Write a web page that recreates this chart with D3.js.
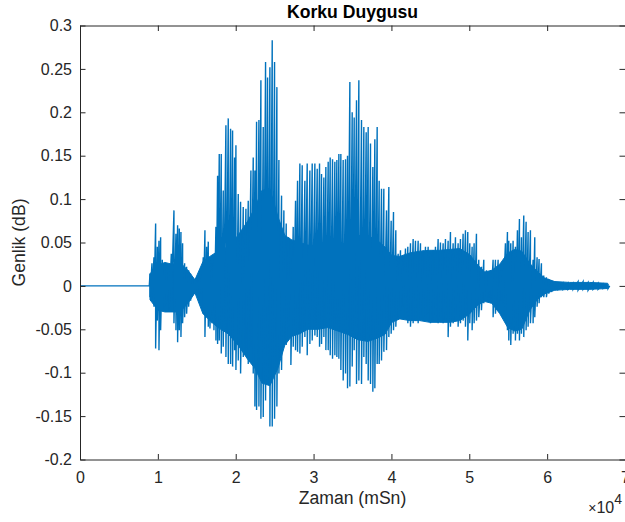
<!DOCTYPE html>
<html>
<head>
<meta charset="utf-8">
<script src="https://cdn.jsdelivr.net/npm/d3@7"></script>
<style>
  body { margin: 0; background: #fff; }
  svg { display: block; }
  text { font-family: "Liberation Sans", Arial, Helvetica, sans-serif; }
</style>
</head>
<body>
<svg id="chart" width="625" height="522"></svg>
<script>
// Waveform extremes: sample index, peak above zero and peak below zero
const sampleTimes = [
  0, 8900, 8990, 9243, 9500, 9714, 9928, 10142, 10355, 10569, 10826, 11125, 11425, 11725,
  12067, 12323, 12537, 12751, 12965, 13179, 13436, 13692, 13949, 14206, 14463, 14763,
  15062, 15362, 15619, 15833, 16047, 16261, 16475, 16688, 16945, 17202, 17458, 17672,
  17886, 18143, 18400, 18742, 19042, 19341, 19598, 19855, 20027, 20326, 20626, 20968,
  21310, 21609, 21952, 22251, 22465, 22679, 22979,
  23235, 23535, 23834, 24091, 24390, 24690, 24989, 25289, 25546, 25888, 26187, 26487,
  26787, 27086, 27386, 27685, 27942, 28241, 28541, 28883, 29183, 29525, 29825, 30167,
  30467, 30766, 31023, 31322, 31579, 31879, 32135, 32435, 32734, 32991, 33248, 33505,
  33804, 34104, 34361, 34660, 34960, 35217, 35516, 35816, 36158, 36457, 36757, 37014,
  37313, 37613,
  37870, 38169, 38426, 38726, 39025, 39367, 39667, 39966, 40266, 40565, 40865, 41164,
  41507, 41806, 42106, 42448, 42790, 43090, 43432, 43732, 44074, 44373, 44716, 45015,
  45357, 45657, 45999, 46299, 46641, 46940, 47283, 47582, 47925, 48224, 48566, 48866,
  49208, 49508, 49807, 50064, 50364, 50620, 50920, 51220, 51562, 51861, 52204, 52503,
  52760, 53060, 53360, 53702, 54044, 54344, 54643, 54900, 55071, 55328, 55628, 55927,
  56184, 56441, 56698, 56997, 57297, 57554, 57853, 58196, 58410, 58709, 58966, 59265,
  59565, 59907, 60207, 60549, 60977, 61405, 62047, 62688, 63330, 63972, 64614, 65256,
  65898, 66540, 67182, 67824, 68040
];
const peakHigh = [
  0, 0, 0.014, 0.026, 0.033, 0.072, 0.045, 0.052, 0.056, 0.030, 0.026, 0.026, 0.022, 0.037,
  0.087, 0.060, 0.070, 0.066, 0.062, 0.049, 0.026, 0.022, 0.018, 0.014, 0.010, 0.008,
  0.008, 0.010, 0.010, 0.033, 0.064, 0.045, 0.051, 0.030, 0.026, 0.030, 0.068, 0.127,
  0.152, 0.152, 0.110, 0.185, 0.193, 0.181, 0.179, 0.148, 0.162, 0.106, 0.097, 0.091,
  0.089, 0.098, 0.133, 0.148, 0.133, 0.189, 0.191,
  0.237, 0.183, 0.258, 0.240, 0.252, 0.283, 0.258, 0.229, 0.145, 0.104, 0.087, 0.072,
  0.056, 0.049, 0.068, 0.098, 0.121, 0.141, 0.139, 0.121, 0.141, 0.133, 0.141, 0.141,
  0.135, 0.141, 0.129, 0.125, 0.137, 0.143, 0.148, 0.146, 0.143, 0.145, 0.152, 0.152,
  0.145, 0.146, 0.150, 0.235, 0.200, 0.194, 0.214, 0.237, 0.191, 0.183, 0.177, 0.183,
  0.164, 0.137,
  0.169, 0.183, 0.121, 0.112, 0.112, 0.087, 0.114, 0.075, 0.085, 0.064, 0.037, 0.041,
  0.033, 0.043, 0.045, 0.049, 0.054, 0.052, 0.052, 0.049, 0.041, 0.045, 0.045, 0.037,
  0.041, 0.045, 0.054, 0.050, 0.049, 0.054, 0.052, 0.062, 0.049, 0.056, 0.049, 0.054,
  0.060, 0.064, 0.062, 0.049, 0.045, 0.049, 0.060, 0.030, 0.022, 0.030, 0.018, 0.010,
  0.018, 0.030, 0.030, 0.030, 0.018, 0.018, 0.049, 0.062, 0.052, 0.049, 0.052, 0.045,
  0.064, 0.077, 0.056, 0.081, 0.074, 0.062, 0.064, 0.030, 0.056, 0.033, 0.031, 0.026,
  0.012, 0.010, 0.008, 0.006, 0.005, 0.003, 0.003, 0.003, 0.003, 0.005, 0.005, 0.004,
  0.004, 0.003, 0.002, 0.001, 0
];
const peakLow = [
  0, 0, -0.013, -0.015, -0.024, -0.072, -0.040, -0.074, -0.051, -0.028, -0.024, -0.020, -0.028, -0.024,
  -0.043, -0.051, -0.065, -0.051, -0.059, -0.043, -0.036, -0.032, -0.024, -0.017, -0.011, -0.009,
  -0.007, -0.009, -0.009, -0.032, -0.059, -0.036, -0.047, -0.049, -0.043, -0.051, -0.063, -0.067,
  -0.063, -0.078, -0.070, -0.082, -0.090, -0.090, -0.093, -0.074, -0.097, -0.086, -0.101, -0.082,
  -0.074, -0.090, -0.070, -0.101, -0.139, -0.143, -0.139,
  -0.153, -0.151, -0.132, -0.109, -0.162, -0.162, -0.153, -0.139, -0.101, -0.097, -0.066, -0.068,
  -0.047, -0.091, -0.070, -0.074, -0.076, -0.078, -0.070, -0.059, -0.080, -0.067, -0.063, -0.057,
  -0.059, -0.070, -0.067, -0.059, -0.074, -0.074, -0.080, -0.084, -0.080, -0.082, -0.084, -0.097,
  -0.109, -0.101, -0.118, -0.116, -0.093, -0.074, -0.113, -0.109, -0.113, -0.082, -0.090, -0.109,
  -0.113, -0.122,
  -0.118, -0.090, -0.090, -0.086, -0.076, -0.074, -0.059, -0.055, -0.051, -0.047, -0.036, -0.028,
  -0.024, -0.036, -0.043, -0.047, -0.043, -0.040, -0.043, -0.040, -0.040, -0.036, -0.032, -0.043,
  -0.040, -0.036, -0.043, -0.036, -0.043, -0.040, -0.059, -0.047, -0.043, -0.040, -0.047, -0.043,
  -0.040, -0.047, -0.063, -0.043, -0.051, -0.043, -0.040, -0.036, -0.028, -0.020, -0.017, -0.013,
  -0.020, -0.036, -0.032, -0.024, -0.017, -0.020, -0.036, -0.051, -0.063, -0.068, -0.055, -0.063,
  -0.055, -0.063, -0.055, -0.059, -0.051, -0.047, -0.043, -0.043, -0.036, -0.024, -0.020, -0.013,
  -0.013, -0.013, -0.009, -0.007, -0.005, -0.004, -0.004, -0.004, -0.004, -0.005, -0.004, -0.005,
  -0.004, -0.004, -0.003, -0.003, 0
];

// Dense core of the waveform (where the trace fills solidly)
const coreTimes = [
  8990, 10013, 10911, 11810, 12837, 13864, 14763, 15790, 16688, 17715, 18999, 20282,
  21566, 22465, 23363, 24390, 25417, 26316, 27214, 28241, 29268, 30552, 31836, 33119,
  34403, 35687, 36971, 38254, 39153, 40051, 41078, 42362, 43646, 44930, 46213, 47497,
  48781, 50064, 51091, 51990, 52888, 53915, 54942, 55841, 56740, 57767, 58793, 59692,
  60976, 62901, 65469, 67780
];
const coreHigh = [
  0.014, 0.024, 0.027, 0.025, 0.027, 0.018, 0.007, 0.028, 0.034, 0.040, 0.045, 0.058,
  0.075, 0.090, 0.110, 0.112, 0.080, 0.058, 0.053, 0.050, 0.047, 0.045, 0.042, 0.045,
  0.052, 0.058, 0.058, 0.052, 0.045, 0.035, 0.034, 0.038, 0.040, 0.041, 0.041, 0.042,
  0.043, 0.036, 0.024, 0.016, 0.018, 0.025, 0.038, 0.042, 0.040, 0.026, 0.016, 0.009,
  0.005, 0.004, 0.004, 0.003
];
const coreLow = [
  -0.016, -0.028, -0.030, -0.030, -0.030, -0.020, -0.008, -0.032, -0.040, -0.048, -0.055, -0.068,
  -0.085, -0.095, -0.112, -0.115, -0.095, -0.068, -0.058, -0.055, -0.050, -0.050, -0.048, -0.052,
  -0.056, -0.062, -0.064, -0.060, -0.056, -0.042, -0.038, -0.040, -0.040, -0.042, -0.042, -0.042,
  -0.040, -0.032, -0.022, -0.018, -0.020, -0.032, -0.048, -0.052, -0.050, -0.028, -0.015, -0.009,
  -0.005, -0.004, -0.004, -0.003
];

const xTickValues = [0, 1, 2, 3, 4, 5, 6, 7];          // in units of 10^4 samples
const xTickLabels = ["0", "1", "2", "3", "4", "5", "6", "7"];
const yTickValues = [-0.2, -0.15, -0.1, -0.05, 0, 0.05, 0.1, 0.15, 0.2, 0.25, 0.3];
const yTickLabels = ["-0.2", "-0.15", "-0.1", "-0.05", "0", "0.05", "0.1", "0.15", "0.2", "0.25", "0.3"];

const titleText = "Korku Duygusu";
const xLabelText = "Zaman (mSn)";
const yLabelText = "Genlik (dB)";

const plot = { left: 80, right: 625, top: 25.5, bottom: 459.5 };
const axisColor = "#262626";
const lineColor = "#0072BD";

const svg = d3.select("#chart");

const x = d3.scaleLinear().domain([0, 70000]).range([plot.left, plot.right]);
const y = d3.scaleLinear().domain([-0.2, 0.3]).range([plot.bottom, plot.top]);

svg.append("clipPath").attr("id", "plotClip")
  .append("rect")
  .attr("x", plot.left).attr("y", plot.top)
  .attr("width", plot.right - plot.left).attr("height", plot.bottom - plot.top);

const waveLayer = svg.append("g").attr("clip-path", "url(#plotClip)");

// Solid core band
waveLayer.append("path")
  .datum(coreTimes.map((t, i) => [t, coreHigh[i], coreLow[i]]))
  .attr("fill", lineColor)
  .attr("stroke", lineColor)
  .attr("stroke-width", 1)
  .attr("d", d3.area().x(d => x(d[0])).y0(d => y(d[2])).y1(d => y(d[1])));

// Individual peaks: the trace alternates between the upper and lower extreme
const wavePoints = [];
sampleTimes.forEach((t, i) => {
  wavePoints.push([t, peakHigh[i]]);
  wavePoints.push([t, peakLow[i]]);
});

waveLayer.append("path")
  .datum(wavePoints)
  .attr("fill", "none")
  .attr("stroke", lineColor)
  .attr("stroke-width", 1.4)
  .attr("d", d3.line().x(d => x(d[0])).y(d => y(d[1])));

// Axes (ticks point inward, box on)
const tickLen = 5.5;
const xAxis = d3.axisBottom(x)
  .tickValues(xTickValues.map(v => v * 1e4))
  .tickFormat((d, i) => xTickLabels[i])
  .tickSizeInner(-tickLen).tickSizeOuter(0).tickPadding(12);
const xTop = d3.axisTop(x)
  .tickValues(xTickValues.map(v => v * 1e4))
  .tickFormat("")
  .tickSizeInner(-tickLen).tickSizeOuter(0);
const yAxis = d3.axisLeft(y)
  .tickValues(yTickValues)
  .tickFormat((d, i) => yTickLabels[i])
  .tickSizeInner(-tickLen).tickSizeOuter(0).tickPadding(8);
const yRight = d3.axisRight(y)
  .tickValues(yTickValues)
  .tickFormat("")
  .tickSizeInner(-tickLen).tickSizeOuter(0);

function styleAxis(g) {
  g.select(".domain").attr("stroke", axisColor);
  g.selectAll(".tick line").attr("stroke", axisColor);
  g.selectAll(".tick text")
    .attr("fill", axisColor)
    .style("font-size", "16px")
    .style("font-family", "'Liberation Sans', Arial, Helvetica, sans-serif");
}

svg.append("g").attr("transform", `translate(0,${plot.bottom})`).call(xAxis).call(styleAxis);
svg.append("g").attr("transform", `translate(0,${plot.top})`).call(xTop).call(styleAxis);
svg.append("g").attr("transform", `translate(${plot.left},0)`).call(yAxis).call(styleAxis);
svg.append("g").attr("transform", `translate(${plot.right},0)`).call(yRight).call(styleAxis);

// Exponent marker for the x axis
const expo = svg.append("text")
  .attr("x", 622).attr("y", 513)
  .attr("text-anchor", "end")
  .attr("fill", axisColor)
  .style("font-size", "16px");
expo.append("tspan").text("\u00D7").style("font-size", "14px");
expo.append("tspan").text("10");
expo.append("tspan").text("4").attr("dy", -9).style("font-size", "14px");

// Title and axis labels
svg.append("text")
  .attr("x", (plot.left + plot.right) / 2).attr("y", 18)
  .attr("text-anchor", "middle")
  .attr("fill", "#000")
  .style("font-size", "17.6px").style("font-weight", "bold")
  .text(titleText);

svg.append("text")
  .attr("x", (plot.left + plot.right) / 2).attr("y", 504)
  .attr("text-anchor", "middle")
  .attr("fill", axisColor)
  .style("font-size", "17.6px")
  .text(xLabelText);

svg.append("text")
  .attr("transform", `translate(25,${(plot.top + plot.bottom) / 2}) rotate(-90)`)
  .attr("text-anchor", "middle")
  .attr("fill", axisColor)
  .style("font-size", "17.6px")
  .text(yLabelText);
</script>
</body>
</html>
